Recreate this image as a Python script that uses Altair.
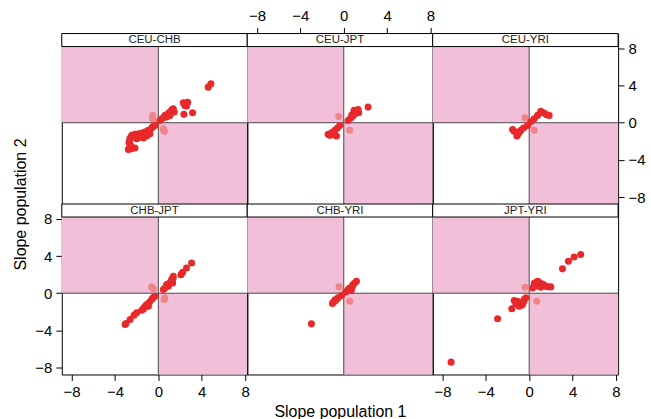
import altair as alt
import pandas as pd

# ---- data ----
panels = ["CEU-CHB", "CEU-JPT", "CEU-YRI", "CHB-JPT", "CHB-YRI", "JPT-YRI"]

ceu_chb_x = [4.85, 4.6, 2.3, 2.5, 2.7, 2.45, 2.6, 2.36, 3.16, 1.38, 1.17, 0.92, 0.61, 0.77, 0.31, 0.15,
             1.47, 1.07, 1.25, 1.0, 0.5, -0.31, -0.61, -0.92, -1.23, -1.53, -1.84, -2.15, -2.45, -2.6,
             -2.7, -2.5, -2.76, -2.15, -1.69, -1.07, -0.77, -1.38, -2.0, -0.5, -1.0, -1.8, -2.3, -2.55,
             2.4, 2.55, 2.65, 1.3, 1.1, 0.85, -1.5, -2.2, -2.65, -2.6]
ceu_chb_y = [4.19, 3.83, 2.15, 2.05, 2.2, 1.86, 1.8, 0.9, 1.08, 1.5, 1.22, 0.97, 0.79, 0.61, 0.43, 0.25,
             1.15, 0.79, 1.4, 1.1, 0.55, -0.29, -0.57, -0.82, -1.0, -1.11, -1.18, -1.25, -1.36, -1.65,
             -2.15, -2.8, -2.87, -2.72, -1.54, -1.43, -1.18, -1.65, -1.72, -0.4, -0.9, -1.4, -1.5, -2.45,
             2.1, 1.95, 2.1, 1.3, 1.0, 0.85, -1.3, -1.3, -1.9, -2.6]
ceu_chb_lx = [-0.52, -0.52, -0.52, 0.46, 0.5, 0.55]
ceu_chb_ly = [0.43, 0.6, 0.79, -0.65, -0.8, -0.93]

ceu_jpt_x = [2.24, 1.32, 1.17, 1.01, 0.86, 0.64, 0.4, 1.38, 0.95, -0.37, -0.58, -0.83, -1.13, -1.29,
             -0.98, -0.67, -1.44, 1.2, 0.75, -0.9, -1.2]
ceu_jpt_y = [1.68, 1.43, 1.15, 0.97, 0.72, 0.5, 0.25, 1.08, 1.33, -0.29, -0.57, -0.82, -1.08, -1.36,
             -1.29, -1.43, -1.25, 1.3, 0.85, -1.1, -1.2]
ceu_jpt_lx = [-0.46, 0.55]
ceu_jpt_ly = [0.68, -0.82]

ceu_yri_x = [1.84, 1.38, 1.07, 0.77, 0.46, 0.15, -0.15, -0.52, -0.77, -1.01, -1.38, -1.53, -1.13,
             1.6, 1.2, -0.9]
ceu_yri_y = [0.79, 1.04, 1.22, 0.79, 0.43, 0.14, -0.29, -0.57, -0.82, -1.18, -0.93, -0.72, -1.43,
             0.85, 1.1, -1.0]
ceu_yri_lx = [-0.4, 0.46]
ceu_yri_ly = [0.54, -0.82]

chb_jpt_x = [3.07, 2.6, 2.24, 2.09, 1.38, 1.23, 1.07, 0.92, 0.61, 0.46, 1.32, 0.77, -0.31, -0.61,
             -0.83, -1.07, -1.32, -1.53, -2.0, -2.24, -2.6, -2.98, -3.06, -0.92,
             1.2, 1.0, 0.8, -0.5, -1.2, -1.4, 1.35]
chb_jpt_y = [3.26, 2.72, 2.26, 2.0, 1.83, 1.47, 1.11, 0.75, 0.57, 0.39, 1.11, 0.93, -0.32, -0.68,
             -0.97, -1.22, -1.58, -1.83, -2.11, -2.37, -2.83, -3.26, -3.37, -1.4,
             1.3, 1.0, 0.8, -0.5, -1.4, -1.7, 1.6]
chb_jpt_lx = [-0.61, -0.46, 0.55, 0.6]
chb_jpt_ly = [0.68, 0.47, -0.68, -0.5]

chb_yri_x = [-2.98, 0.86, 0.55, 0.4, 0.7, 0.18, 0.8, 1.17, -0.21, -0.52, -0.83, -1.04, -0.67, -0.98,
             1.0, -0.8]
chb_yri_y = [-3.3, 0.93, 0.57, 0.39, 0.32, 0.14, 0.75, 1.29, -0.25, -0.5, -0.86, -1.11, -0.68, -0.97,
             1.1, -0.7]
chb_yri_lx = [-0.43, 0.55]
chb_yri_ly = [0.68, -0.86]

jpt_yri_x = [4.75, 4.14, 3.62, 3.07, -7.2, -2.91, -1.6, -1.38, -1.07, -0.77, -0.92, -0.61, -0.46,
             -0.31, -1.23, 0.31, 0.77, 0.92, 1.23, 1.53, 1.99, 0.61, 1.07, 0.46,
             0.5, 0.9, 1.4, 1.7, -1.0, -0.7, -1.2, -0.5]
jpt_yri_y = [4.16, 3.9, 3.44, 2.62, -7.42, -2.76, -1.68, -0.79, -0.86, -1.04, -1.4, -1.22, -0.68,
             -0.5, -1.15, 0.57, 1.29, 0.93, 1.0, 0.75, 0.68, 0.75, 0.65, 1.0,
             1.1, 1.2, 0.85, 0.7, -1.2, -1.3, -1.0, -0.9]
jpt_yri_lx = [-0.37, 0.7]
jpt_yri_ly = [0.65, -0.86]

tick_values = [-8, -4, 0, 4, 8]

series = {
    "CEU-CHB": (ceu_chb_x, ceu_chb_y, ceu_chb_lx, ceu_chb_ly),
    "CEU-JPT": (ceu_jpt_x, ceu_jpt_y, ceu_jpt_lx, ceu_jpt_ly),
    "CEU-YRI": (ceu_yri_x, ceu_yri_y, ceu_yri_lx, ceu_yri_ly),
    "CHB-JPT": (chb_jpt_x, chb_jpt_y, chb_jpt_lx, chb_jpt_ly),
    "CHB-YRI": (chb_yri_x, chb_yri_y, chb_yri_lx, chb_yri_ly),
    "JPT-YRI": (jpt_yri_x, jpt_yri_y, jpt_yri_lx, jpt_yri_ly),
}

# ---- scale domains ----
XMIN, XMAX = -8.9, 8.2
YMIN, YMAX = -8.75, 8.2
STRIP_TOP = 9.6

RED = "#e8292b"
LIGHT = "#f08589"
PINK = "#f2bfd8"
FONT = "Liberation Sans"
W, H = 186, 171


def make_axis(orient, title=None, **kw):
    return alt.Axis(orient=orient, values=tick_values, title=title, labelFlush=False,
                    labelOverlap=False, **kw)


def panel(name, xaxis, yaxis):
    rx, ry, lx, ly = series[name]
    xs = alt.Scale(domain=[XMIN, XMAX], nice=False, zero=False)
    ys = alt.Scale(domain=[YMIN, STRIP_TOP], nice=False, zero=False)
    X = lambda: alt.X("x:Q", scale=xs, axis=xaxis)
    Y = lambda: alt.Y("y:Q", scale=ys, axis=yaxis)

    quads = pd.DataFrame({"x": [XMIN, 0], "x2": [0, XMAX], "y": [0, YMIN], "y2": [YMAX, 0]})
    vrule = pd.DataFrame({"x": [0], "y": [YMIN], "y2": [YMAX]})
    hrule = pd.DataFrame({"y": [0], "x": [XMIN], "x2": [XMAX]})
    strip = pd.DataFrame({"x": [XMIN], "x2": [XMAX], "y": [YMAX], "y2": [STRIP_TOP]})
    label = pd.DataFrame({"x": [(XMIN + XMAX) / 2], "y": [(YMAX + STRIP_TOP) / 2], "label": [name]})
    pts = pd.DataFrame({
        "x": lx + rx,
        "y": ly + ry,
        "kind": ["discordant"] * len(lx) + ["concordant"] * len(rx),
    })

    l_quads = alt.Chart(quads).mark_rect(color=PINK).encode(x=X(), x2="x2:Q", y=Y(), y2="y2:Q")
    l_v = alt.Chart(vrule).mark_rule(color="#4a4a4a", strokeWidth=1).encode(x=X(), y=Y(), y2="y2:Q")
    l_h = alt.Chart(hrule).mark_rule(color="#4a4a4a", strokeWidth=1).encode(y=Y(), x=X(), x2="x2:Q")
    l_pts = alt.Chart(pts).mark_circle(size=50, opacity=1).encode(
        x=X(), y=Y(),
        color=alt.Color("kind:N", scale=alt.Scale(domain=["discordant", "concordant"],
                                                  range=[LIGHT, RED]), legend=None),
    )
    l_strip = alt.Chart(strip).mark_rect(fill="white", stroke="black", strokeWidth=1).encode(
        x=X(), x2="x2:Q", y=Y(), y2="y2:Q")
    l_label = alt.Chart(label).mark_text(font=FONT, fontSize=11.5, color="#222",
                                         baseline="middle").encode(x=X(), y=Y(), text="label:N")
    return alt.layer(l_quads, l_v, l_h, l_pts, l_strip, l_label).properties(width=W, height=H)


charts = [
    panel("CEU-CHB", None, None),
    panel("CEU-JPT", make_axis("top"), None),
    panel("CEU-YRI", None, make_axis("right")),
    panel("CHB-JPT", make_axis("bottom", "Slope population 1", titleX=279, titlePadding=4),
          make_axis("left", "Slope population 2", titleY=0)),
    panel("CHB-YRI", None, None),
    panel("JPT-YRI", make_axis("bottom"), None),
]

chart = alt.concat(*charts, columns=3, spacing=0, bounds="flush").properties(
    padding={"left": 12, "top": 7, "right": 5, "bottom": 1}
).configure_view(
    stroke="black", strokeWidth=1
).configure_axis(
    grid=False, domain=False, tickColor="black", tickSize=6, tickWidth=1,
    labelColor="black", labelFont=FONT, labelFontSize=15, labelPadding=4,
    titleFont=FONT, titleFontSize=16, titleFontWeight="normal", titleColor="black",
    titlePadding=6,
)

chart.save("out.html", embed_options={"renderer": "svg", "actions": False})
